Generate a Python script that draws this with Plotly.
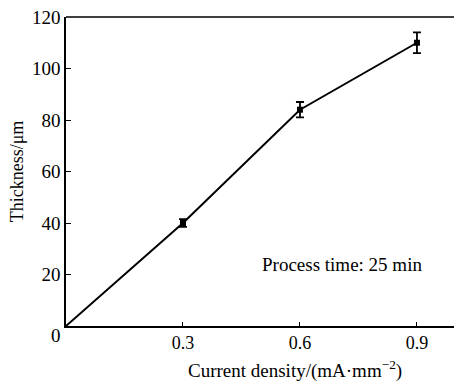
import plotly.graph_objects as go

current_density = [0, 0.3, 0.6, 0.9]
thickness = [0, 40, 84, 110]
thickness_err = [0, 1.5, 3, 4]

y_ticks = [20, 40, 60, 80, 100, 120]
x_ticks = [0.3, 0.6, 0.9]

FONT = "Liberation Serif, Times New Roman, serif"

fig = go.Figure()
fig.add_trace(go.Scatter(
    x=current_density, y=thickness, mode="lines",
    line=dict(color="black", width=2), showlegend=False, hoverinfo="skip"))
fig.add_trace(go.Scatter(
    x=current_density[1:], y=thickness[1:], mode="markers",
    marker=dict(symbol="square", size=6, color="black"),
    error_y=dict(type="data", array=thickness_err[1:], visible=True,
                 color="black", thickness=1.8, width=4),
    showlegend=False))

fig.update_layout(
    width=454, height=384,
    margin=dict(l=66, r=0, t=17, b=58),
    plot_bgcolor="white", paper_bgcolor="white",
    font=dict(family=FONT, color="black", size=18),
    xaxis=dict(range=[0, 0.995], tickvals=x_ticks, ticktext=[str(v) for v in x_ticks],
               ticks="inside", ticklen=4, tickwidth=1.2, tickcolor="black",
               showline=True, linecolor="black", linewidth=1.6, mirror=False,
               showgrid=False, zeroline=False, tickfont=dict(size=18)),
    yaxis=dict(range=[0, 120], tickvals=y_ticks,
               ticks="inside", ticklen=5, tickwidth=1.2, tickcolor="black",
               showline=True, linecolor="black", linewidth=1.6, mirror=False,
               showgrid=False, zeroline=False, tickfont=dict(size=19),
               title=dict(text="Thickness/μm", font=dict(size=18), standoff=4)),
    shapes=[dict(type="line", xref="paper", yref="paper", x0=0, x1=1, y0=1, y1=1,
                 line=dict(color="black", width=1.6))],
    annotations=[
        dict(text="0", xref="paper", yref="paper", x=-0.025, y=-0.032,
             xanchor="center", yanchor="middle", showarrow=False, font=dict(size=19)),
        dict(text="Process time: 25 min", x=0.708, y=24, xref="x", yref="y",
             xanchor="center", yanchor="middle", showarrow=False, font=dict(size=19)),
        dict(text="Current density/(mA·mm<sup>−2</sup>)", xref="paper", yref="paper",
             x=0.59, y=-0.14, xanchor="center", yanchor="middle", showarrow=False,
             font=dict(size=19)),
    ],
)

fig.write_html("out.html")
